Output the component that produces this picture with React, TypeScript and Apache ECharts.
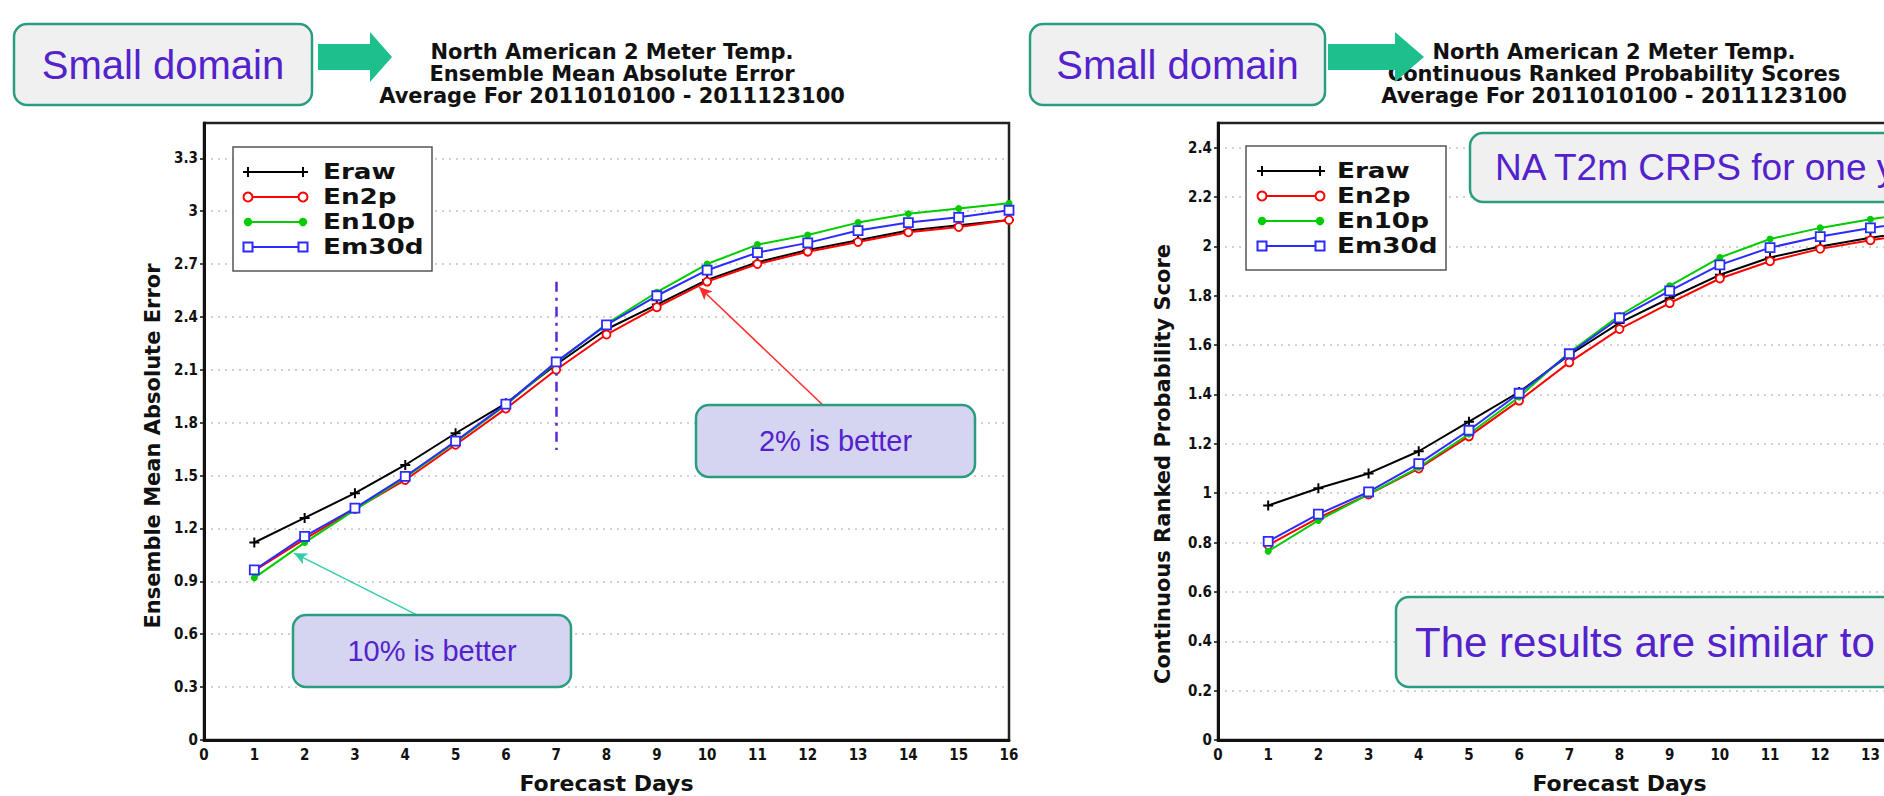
import React, { useEffect, useRef } from "react";
import * as echarts from "echarts";

// ---------- data ----------
const days = [1, 2, 3, 4, 5, 6, 7, 8, 9, 10, 11, 12, 13, 14, 15, 16];
const seriesNames = ["Eraw", "En2p", "En10p", "Em30d"];
const seriesColors = ["#000000", "#ff0000", "#00cc00", "#2b2bff"];

// Ensemble Mean Absolute Error
const maeEraw = [1.12, 1.26, 1.4, 1.56, 1.74, 1.91, 2.13, 2.33, 2.47, 2.61, 2.71, 2.78, 2.835, 2.89, 2.92, 2.95];
const maeEn2p = [0.96, 1.14, 1.31, 1.475, 1.675, 1.88, 2.1, 2.3, 2.455, 2.6, 2.7, 2.77, 2.825, 2.88, 2.91, 2.95];
const maeEn10p = [0.92, 1.12, 1.305, 1.49, 1.69, 1.9, 2.14, 2.36, 2.54, 2.7, 2.81, 2.865, 2.935, 2.985, 3.015, 3.045];
const maeEm30d = [0.965, 1.155, 1.315, 1.495, 1.695, 1.905, 2.145, 2.355, 2.52, 2.665, 2.765, 2.82, 2.89, 2.935, 2.965, 3.005];

// Continuous Ranked Probability Score
const crpsEraw = [0.95, 1.02, 1.08, 1.17, 1.29, 1.41, 1.56, 1.69, 1.79, 1.885, 1.955, 2.0, 2.035, 2.065, 2.09, 2.11];
const crpsEn2p = [0.79, 0.9, 0.995, 1.1, 1.23, 1.375, 1.53, 1.665, 1.77, 1.87, 1.94, 1.99, 2.025, 2.055, 2.08, 2.1];
const crpsEn10p = [0.765, 0.89, 0.995, 1.105, 1.24, 1.39, 1.57, 1.72, 1.84, 1.955, 2.03, 2.075, 2.11, 2.14, 2.165, 2.185];
const crpsEm30d = [0.805, 0.915, 1.005, 1.12, 1.255, 1.405, 1.565, 1.71, 1.82, 1.925, 1.995, 2.04, 2.075, 2.105, 2.13, 2.15];

const maeAxis = { min: 0, max: 3.5, step: 0.3 };
const crpsAxis = { min: 0, max: 2.5, step: 0.2 };
const dayAxis = { min: 0, max: 16, step: 1 };
const lastVisibleDayRight = 13; // the right panel is cut by the page edge after day 13

const titleLeft = "North American 2 Meter Temp.\nEnsemble Mean Absolute Error\nAverage For 2011010100 - 2011123100";
const titleRight = "North American 2 Meter Temp.\nContinuous Ranked Probability Scores\nAverage For 2011010100 - 2011123100";
const yNameLeft = "Ensemble Mean Absolute Error";
const yNameRight = "Continuous Ranked Probability Score";

// ---------- styles ----------
const PURPLE = "#5322cc";
const TEAL = "#2a9d80";
const ARROW_GREEN = "#1dc08d";
const GRADS = '"DejaVu Sans", sans-serif';
const GRADS_COND = '"DejaVu Sans Condensed", "DejaVu Sans", sans-serif';
const ARIAL = '"Liberation Sans", Arial, sans-serif';
const plusPath = "path://M4,0h2v4h4v2h-4v4h-2v-4h-4v-2h4z";

function makeSeries(values: number[], idx: number, axis: number, extra: any = {}) {
  const color = seriesColors[idx];
  const sym: any[] = [
    { symbol: plusPath, symbolSize: 10, itemStyle: { color } },
    { symbol: "circle", symbolSize: 8, itemStyle: { color: "#fff", borderColor: color, borderWidth: 1.8 } },
    { symbol: "circle", symbolSize: 7, itemStyle: { color } },
    { symbol: "rect", symbolSize: 9, itemStyle: { color: "#fff", borderColor: color, borderWidth: 1.8 } },
  ];
  return {
    name: seriesNames[idx],
    type: "line",
    xAxisIndex: axis,
    yAxisIndex: axis,
    data: days.map((d, i) => [d, values[i]]),
    showSymbol: true,
    showAllSymbol: true,
    lineStyle: { color, width: 2 },
    emphasis: { disabled: true },
    z: 2 + idx,
    ...sym[idx],
    ...extra,
  };
}

function marker(i: number, x: number, y: number): any[] {
  const c = seriesColors[i];
  if (i === 0)
    return [
      { type: "line", shape: { x1: x - 5, y1: y, x2: x + 5, y2: y }, style: { stroke: c, lineWidth: 2 }, z: 22 },
      { type: "line", shape: { x1: x, y1: y - 5, x2: x, y2: y + 5 }, style: { stroke: c, lineWidth: 2 }, z: 22 },
    ];
  if (i === 1)
    return [{ type: "circle", shape: { cx: x, cy: y, r: 4.5 }, style: { fill: "#fff", stroke: c, lineWidth: 2 }, z: 22 }];
  if (i === 2) return [{ type: "circle", shape: { cx: x, cy: y, r: 4.2 }, style: { fill: c }, z: 22 }];
  return [{ type: "rect", shape: { x: x - 4.5, y: y - 4.5, width: 9, height: 9 }, style: { fill: "#fff", stroke: c, lineWidth: 2 }, z: 22 }];
}

function legendGraphics(x0: number, y0: number, w: number, h: number, rowY0: number, lx1: number, lx2: number, tx: number) {
  const els: any[] = [
    { type: "rect", shape: { x: x0, y: y0, width: w, height: h }, style: { fill: "#fff", stroke: "#555", lineWidth: 1.5 }, z: 20 },
  ];
  seriesNames.forEach((name, i) => {
    const y = rowY0 + i * 25;
    els.push({ type: "line", shape: { x1: lx1, y1: y, x2: lx2, y2: y }, style: { stroke: seriesColors[i], lineWidth: 2 }, z: 21 });
    els.push(...marker(i, lx1, y), ...marker(i, lx2, y));
    els.push({
      type: "text",
      x: tx,
      y,
      scaleX: 1.25,
      style: { text: name, fill: "#111", fontSize: 21, fontWeight: "bold", fontFamily: GRADS, align: "left", verticalAlign: "middle" },
      z: 22,
    });
  });
  return els;
}

function box(x: number, y: number, w: number, h: number, fill: string, text: string, fontSize: number, tx: number | null) {
  return [
    { type: "rect", shape: { x, y, width: w, height: h, r: 13 }, style: { fill, stroke: TEAL, lineWidth: 2.5 }, z: 30 },
    {
      type: "text",
      x: tx === null ? x + w / 2 : tx,
      y: y + h / 2,
      style: {
        text,
        fill: PURPLE,
        fontSize,
        fontFamily: ARIAL,
        align: tx === null ? "center" : "left",
        verticalAlign: "middle",
      },
      z: 31,
    },
  ];
}

function headerArrow(x0: number, xh: number, xt: number) {
  return {
    type: "polygon",
    shape: { points: [[x0, 44], [xh, 44], [xh, 32], [xt, 57], [xh, 82], [xh, 70], [x0, 70]] },
    style: { fill: ARROW_GREEN },
    z: 30,
  };
}

function yTitle(text: string, x: number, y: number) {
  return {
    type: "text",
    x,
    y,
    rotation: Math.PI / 2,
    style: { text, fill: "#111", fontSize: 21, fontWeight: "bold", fontFamily: GRADS, align: "center", verticalAlign: "middle" },
    z: 10,
  };
}

function xAxisCfg(gridIndex: number, lastLabel: number) {
  return {
    type: "value",
    gridIndex,
    min: dayAxis.min,
    max: dayAxis.max,
    interval: dayAxis.step,
    axisLine: { show: true, onZero: false, lineStyle: { color: "#111", width: 3 } },
    axisTick: { show: false },
    axisLabel: {
      fontSize: 15,
      fontWeight: "bold",
      fontFamily: GRADS_COND,
      color: "#111",
      margin: 7,
      formatter: (v: number) => (v > lastLabel ? "" : String(v)),
    },
    splitLine: { show: false },
    name: "Forecast Days",
    nameLocation: "middle",
    nameGap: 32,
    nameTextStyle: { fontSize: 22, fontWeight: "bold", fontFamily: GRADS, color: "#111" },
  };
}

function yAxisCfg(gridIndex: number, ax: { min: number; max: number; step: number }) {
  return {
    type: "value",
    gridIndex,
    min: ax.min,
    max: ax.max,
    interval: ax.step,
    axisLine: { show: true, onZero: false, lineStyle: { color: "#111", width: 3 } },
    axisTick: { show: true, length: 4, lineStyle: { color: "#111", width: 1.5 } },
    axisLabel: { fontSize: 15, fontWeight: "bold", fontFamily: GRADS_COND, color: "#111", margin: 6, showMaxLabel: false },
    splitLine: { show: true, showMaxLine: false, showMinLine: false, lineStyle: { color: "#c2c2c2", width: 1.5, type: [2, 5] } },
  };
}

export default function App() {
  const ref = useRef<HTMLDivElement>(null);

  useEffect(() => {
    if (!ref.current) return;
    const chart = echarts.init(ref.current, null, { renderer: "svg" });

    const titleStyle = { fontSize: 21, fontWeight: "bold", fontFamily: GRADS, color: "#111", lineHeight: 22 };

    const option: any = {
      animation: false,
      backgroundColor: "#ffffff",
      title: [
        { text: titleLeft, left: 612, top: 41, textAlign: "center", padding: 0, textStyle: titleStyle },
        { text: titleRight, left: 1614, top: 41, textAlign: "center", padding: 0, textStyle: titleStyle },
      ],
      grid: [
        { left: 204, top: 123, width: 805, height: 617, show: true, borderColor: "#222", borderWidth: 2.5, containLabel: false, outerBoundsMode: "none" },
        { left: 1218, top: 123, width: 803, height: 617, show: true, borderColor: "#222", borderWidth: 2.5, containLabel: false, outerBoundsMode: "none" },
      ],
      xAxis: [xAxisCfg(0, dayAxis.max), xAxisCfg(1, lastVisibleDayRight)],
      yAxis: [yAxisCfg(0, maeAxis), yAxisCfg(1, crpsAxis)],
      series: [
        makeSeries(maeEraw, 0, 0),
        makeSeries(maeEn2p, 1, 0),
        makeSeries(maeEn10p, 2, 0),
        makeSeries(maeEm30d, 3, 0, {
          markLine: {
            silent: true,
            animation: false,
            label: { show: false },
            emphasis: { disabled: true },
            symbol: ["none", "arrow"],
            symbolSize: [9, 13],
            data: [
              [
                { coord: [7, 2.6], symbol: "none", lineStyle: { color: "#5a2ad6", width: 2.5, type: [10, 6, 3, 6] } },
                { coord: [7, 1.645], symbol: "none" },
              ],
              [
                { coord: [12.3, 1.9], lineStyle: { color: "#ff2a2a", width: 1.5, type: "solid" } },
                { coord: [9.84, 2.57] },
              ],
              [
                { coord: [4.23, 0.71], lineStyle: { color: "#33ccaa", width: 1.5, type: "solid" } },
                { coord: [1.79, 1.06] },
              ],
            ],
          },
        }),
        makeSeries(crpsEraw, 0, 1),
        makeSeries(crpsEn2p, 1, 1),
        makeSeries(crpsEn10p, 2, 1),
        makeSeries(crpsEm30d, 3, 1),
      ],
      graphic: [
        yTitle(yNameLeft, 153, 446),
        yTitle(yNameRight, 1163, 464),
        ...box(14, 24, 298, 81, "#f0f0f0", "Small domain", 40, null),
        headerArrow(318, 370, 392),
        ...box(1030, 24, 295, 81, "#f0f0f0", "Small domain", 40, null),
        headerArrow(1328, 1395, 1424),
        ...legendGraphics(233, 147, 199, 124, 172, 248, 303, 323),
        ...legendGraphics(1246, 146, 200, 124, 171, 1262, 1320, 1337),
        ...box(293, 615, 278, 72, "#d5d5f2", "10% is better", 29, null),
        ...box(696, 405, 279, 72, "#d5d5f2", "2% is better", 29, null),
        ...box(1470, 133, 640, 69, "#f0f0f0", "NA T2m CRPS for one year", 37, 1495),
        ...box(1396, 597, 720, 90, "#f0f0f0", "The results are similar to", 42, 1415),
      ],
    };

    chart.setOption(option);
    return () => chart.dispose();
  }, []);

  return (
    <div
      ref={ref}
      style={{ position: "fixed", left: 0, top: 0, width: 1884, height: 796, background: "#fff" }}
    />
  );
}
